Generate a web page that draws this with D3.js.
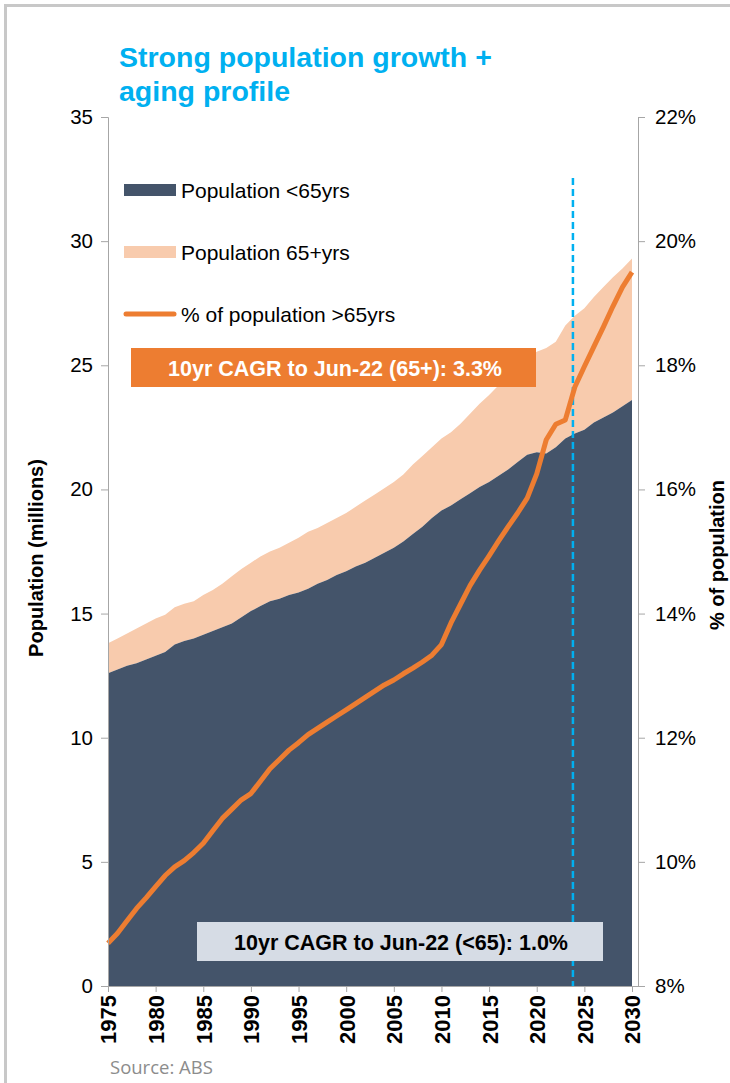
<!DOCTYPE html>
<html><head><meta charset="utf-8">
<script src="https://cdn.jsdelivr.net/npm/d3@7"></script>
<style>body{margin:0;background:#fff}svg{display:block}</style>
</head><body>
<svg id="c" width="730" height="1083"></svg>
<script>
const years = d3.range(1975, 2031);
const under65 = [12.6,12.75,12.9,13.0,13.15,13.3,13.45,13.75,13.9,14.0,14.15,14.3,14.45,14.6,14.85,15.1,15.3,15.5,15.6,15.75,15.85,16.0,16.2,16.35,16.55,16.7,16.9,17.05,17.25,17.45,17.65,17.9,18.2,18.5,18.85,19.15,19.35,19.6,19.85,20.1,20.3,20.55,20.8,21.1,21.4,21.5,21.45,21.7,22.05,22.25,22.4,22.7,22.9,23.1,23.35,23.6];
const over65 = [1.2,1.25,1.3,1.4,1.45,1.5,1.5,1.5,1.5,1.5,1.6,1.65,1.75,1.9,1.95,1.95,2.0,2.0,2.05,2.1,2.2,2.3,2.25,2.3,2.3,2.35,2.4,2.5,2.55,2.6,2.65,2.7,2.8,2.85,2.85,2.9,2.95,3.05,3.2,3.35,3.5,3.65,3.8,3.9,3.9,4.05,4.25,4.25,4.55,4.75,4.9,5.05,5.25,5.45,5.55,5.7];
const pctOver65 = [8.69,8.85,9.05,9.25,9.42,9.6,9.78,9.92,10.02,10.15,10.3,10.5,10.7,10.85,11.0,11.1,11.3,11.5,11.65,11.8,11.92,12.05,12.15,12.25,12.35,12.45,12.55,12.65,12.75,12.85,12.93,13.03,13.12,13.22,13.33,13.5,13.85,14.15,14.45,14.7,14.93,15.17,15.4,15.62,15.86,16.25,16.8,17.05,17.12,17.65,17.98,18.3,18.62,18.95,19.26,19.5];
const leftTicks = [0,5,10,15,20,25,30,35];
const rightTicks = [8,10,12,14,16,18,20,22];
const xTicks = [1975,1980,1985,1990,1995,2000,2005,2010,2015,2020,2025,2030];
const markerYear = 2023.8;
const legendLabels = ["Population <65yrs","Population 65+yrs","% of population >65yrs"];
const titleLines = ["Strong population growth +","aging profile"];
const note65 = "10yr CAGR to Jun-22 (65+): 3.3%";
const noteUnder = "10yr CAGR to Jun-22 (<65): 1.0%";

const C = {dark:"#44546A", light:"#F8CBAD", line:"#ED7D31", blue:"#00B0F0", axis:"#a6a6a6"};
const svg = d3.select("#c");
const F = "Liberation Sans, Arial, sans-serif";

// frame
svg.append("line").attr("x1",5).attr("x2",730).attr("y1",5.5).attr("y2",5.5).attr("stroke","#c8c8c8").attr("stroke-width",3);
svg.append("line").attr("x1",5.5).attr("x2",5.5).attr("y1",4).attr("y2",1083).attr("stroke","#c8c8c8").attr("stroke-width",3);

const x = d3.scaleLinear().domain([1975,2030]).range([108,632]);
const yL = d3.scaleLinear().domain([0,35]).range([986,117]);
const yR = d3.scaleLinear().domain([8,22]).range([986,117]);

const rows = years.map((yr,i)=>({year:yr, u:under65[i], o:over65[i], p:pctOver65[i]}));
const stack = d3.stack().keys(["u","o"])(rows);
const area = d3.area().x(d=>x(d.data.year)).y0(d=>yL(d[0])).y1(d=>yL(d[1]));
svg.append("path").datum(stack[1]).attr("d",area).attr("fill",C.light);
svg.append("path").datum(stack[0]).attr("d",area).attr("fill",C.dark);

// dashed marker
svg.append("line").attr("x1",x(markerYear)).attr("x2",x(markerYear)).attr("y1",178).attr("y2",986)
  .attr("stroke",C.blue).attr("stroke-width",2.5).attr("stroke-dasharray","7,4");

// pct line
svg.append("path").datum(rows).attr("d",d3.line().x(d=>x(d.year)).y(d=>yR(d.p)))
  .attr("fill","none").attr("stroke",C.line).attr("stroke-width",5).attr("stroke-linejoin","round");

// axes
const gL = svg.append("g").attr("transform","translate(108,0)")
  .call(d3.axisLeft(yL).tickValues(leftTicks).tickSize(7).tickPadding(8).tickFormat(d3.format("d")));
const gR = svg.append("g").attr("transform","translate(638,0)")
  .call(d3.axisRight(yR).tickValues(rightTicks).tickSize(7).tickPadding(10).tickFormat(d=>d+"%"));
const gX = svg.append("g").attr("transform","translate(0,986)")
  .call(d3.axisBottom(x).tickValues(xTicks).tickSize(6).tickFormat(d3.format("d")));
gX.select(".domain").attr("d","M108,0.5H638");
[gL,gR,gX].forEach(g=>{
  g.selectAll("path,line").attr("stroke",C.axis);
  g.selectAll("text").attr("font-family",F).attr("font-size",20.5).attr("fill","#000");
});
gX.selectAll("text").attr("font-weight","bold").attr("font-size",22).attr("transform","rotate(-90)")
  .attr("text-anchor","end").attr("x",-9).attr("y",0).attr("dy","0.36em");

// axis titles
svg.append("text").attr("transform","translate(43,558) rotate(-90)").attr("text-anchor","middle")
  .attr("font-family",F).attr("font-weight","bold").attr("font-size",20).text("Population (millions)");
svg.append("text").attr("transform","translate(724,555) rotate(-90)").attr("text-anchor","middle")
  .attr("font-family",F).attr("font-weight","bold").attr("font-size",20).text("% of population");

// title
svg.append("g").selectAll("text").data(titleLines).join("text")
  .attr("x",119).attr("y",(d,i)=>67+i*34).attr("font-family",F).attr("font-weight","bold")
  .attr("font-size",28.5).attr("fill",C.blue).text(d=>d);

// legend
const lg = svg.append("g");
legendLabels.forEach((t,i)=>{
  const cy = 190 + i*62;
  if(i<2) lg.append("rect").attr("x",124).attr("y",cy-6).attr("width",52).attr("height",12).attr("fill",i==0?C.dark:C.light);
  else lg.append("line").attr("x1",126).attr("x2",174).attr("y1",cy).attr("y2",cy).attr("stroke",C.line).attr("stroke-width",5).attr("stroke-linecap","round");
  lg.append("text").attr("x",181).attr("y",cy).attr("dy","0.36em").attr("font-family",F).attr("font-size",21).text(t);
});

// notes
svg.append("rect").attr("x",131).attr("y",348).attr("width",405).attr("height",39).attr("fill",C.line);
svg.append("text").attr("x",335).attr("y",368).attr("dy","0.36em").attr("text-anchor","middle").attr("font-family",F)
  .attr("font-weight","bold").attr("font-size",21.5).attr("fill","#fff").text(note65);
svg.append("rect").attr("x",197).attr("y",922).attr("width",406).attr("height",39).attr("fill","#D6DCE5");
svg.append("text").attr("x",401).attr("y",942).attr("dy","0.36em").attr("text-anchor","middle").attr("font-family",F)
  .attr("font-weight","bold").attr("font-size",21.5).attr("fill","#000").text(noteUnder);

// source
svg.append("text").attr("x",110).attr("y",1074).attr("font-family","Open Sans, sans-serif").attr("font-size",18.5)
  .attr("fill","#8c8c8c").text("Source: ABS");
</script>
</body></html>
